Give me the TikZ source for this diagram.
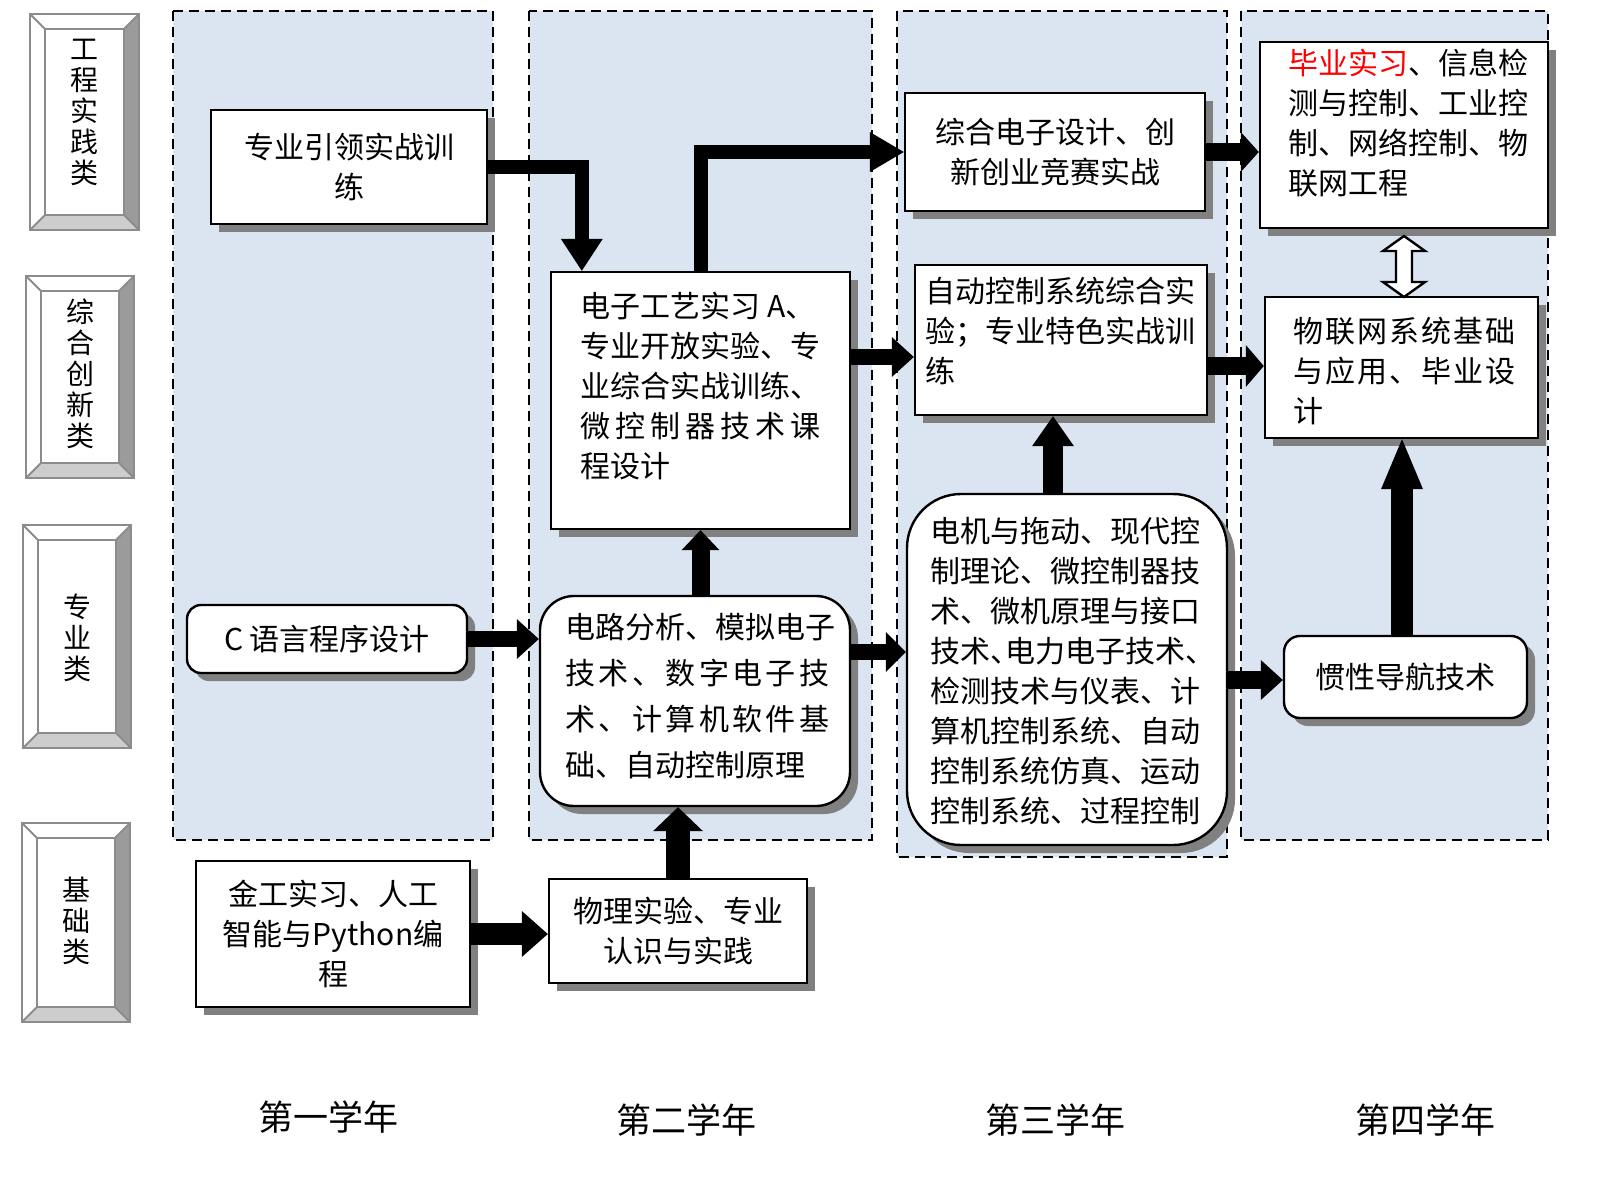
\documentclass[tikz,border=0pt]{standalone}
\usepackage{fontspec}
\setmainfont{Noto Sans CJK SC}
\usetikzlibrary{arrows.meta,shadows,calc}
\definecolor{panelblue}{RGB}{219,229,241}
\definecolor{shadowgray}{RGB}{128,128,128}
\definecolor{bevdark}{RGB}{155,155,155}
\definecolor{bevlight}{RGB}{205,205,205}
\definecolor{bevline}{RGB}{140,140,140}
\definecolor{hotred}{RGB}{255,0,0}
\newcommand\fbody{\fontsize{15pt}{20pt}\selectfont}
\newcommand\flab{\fontsize{14pt}{15.5pt}\selectfont}
\newcommand\fyear{\fontsize{17.5pt}{20pt}\selectfont}
\def\sprA#1#2{#1\ifx\relax#2\else\hfil\expandafter\sprA\expandafter#2\fi}
\newcommand\jline[2]{\hbox to #1{\sprA#2\relax}}
\newcommand\hw[1]{\makebox[0.5em][l]{#1}}
\newcommand\bevbox[4]{%
 \fill[white] (#1,#2) rectangle (#3,#4);
 \fill[bevdark] (#3,#2) -- (#3,#4) -- ({#3-15},{#4-15}) -- ({#3-15},{#2+15}) -- cycle;
 \fill[bevlight] (#1,#4) -- (#3,#4) -- ({#3-15},{#4-15}) -- ({#1+15},{#4-15}) -- cycle;
 \draw[bevline,line width=1pt] (#1,#2) rectangle (#3,#4);
 \draw[bevline,line width=1pt] ({#1+15},{#2+15}) rectangle ({#3-15},{#4-15});
 \draw[bevline,line width=1pt] (#1,#2) -- ({#1+15},{#2+15}) (#3,#2) -- ({#3-15},{#2+15})
   (#3,#4) -- ({#3-15},{#4-15}) (#1,#4) -- ({#1+15},{#4-15});
}
\tikzset{
 panel/.style={draw=black, fill=panelblue, dash pattern=on 5pt off 3pt, line width=1pt},
 box/.style={draw=black, fill=white, line width=1.2pt, inner sep=0pt, font=\fbody, align=center,
   drop shadow={shadow xshift=4pt, shadow yshift=-4pt, fill=shadowgray, opacity=1}},
 ltxt/.style={font=\fbody, align=left, anchor=north west, inner sep=0pt},
 labtxt/.style={font=\flab, align=center, inner sep=0pt},
 yeartxt/.style={font=\fyear, inner sep=0pt},
 blk/.style n args={3}{draw=black, line width=#1, line join=miter,
   -{Triangle[width=#2,length=#3,line width=0pt]}},
 dbl/.style={draw=black, fill=white, line width=1.2pt, line join=miter}
}
\begin{document}
\begin{tikzpicture}[x=0.5pt,y=-0.5pt]
\useasboundingbox (0,0) rectangle (1600,1177);
% year panels
\draw[panel] (173,11) rectangle (493,840);
\draw[panel] (529,11) rectangle (872,840);
\draw[panel] (897,11) rectangle (1227,857);
\draw[panel] (1241,11) rectangle (1548,840);
% category labels
\bevbox{30}{14}{139}{230}
\node[labtxt] (L1) at (84,112) {工\\程\\实\\践\\类};
\bevbox{26}{276}{134}{478}
\node[labtxt] (L2) at (80,374) {综\\合\\创\\新\\类};
\bevbox{23}{525}{131}{748}
\node[labtxt] (L3) at (77,638) {专\\业\\类};
\bevbox{22}{823}{130}{1022}
\node[labtxt] (L4) at (76,921) {基\\础\\类};
% boxes
\node[box, minimum width=138pt, minimum height=57pt] (B1) at (349,167) {专业引领实战训\\练};
\node[box, minimum width=149.5pt, minimum height=128.5pt] (B2) at (700.5,400.5) {};
\node[box, minimum width=150pt, minimum height=59pt] (B3) at (1055,152) {综合电子设计、创\\新创业竞赛实战};
\node[box, minimum width=146pt, minimum height=75pt] (B4) at (1061,340) {};
\node[box, minimum width=144pt, minimum height=93pt] (B5) at (1404,135) {};
\node[box, minimum width=136.5pt, minimum height=70.5pt] (B6) at (1401.5,367.5) {};
\node[box, rounded corners=7pt, minimum width=140pt, minimum height=34pt] (B7) at (327,639) {C 语言程序设计};
\node[box, rounded corners=17pt, minimum width=155pt, minimum height=105pt] (B8) at (695,701) {};
\node[box, rounded corners=27pt, minimum width=160pt, minimum height=175.5pt] (B9) at (1067,669.5) {};
\node[box, rounded corners=8pt, minimum width=121.5pt, minimum height=41pt] (B10) at (1405.5,677) {惯性导航技术};
\node[box, minimum width=137pt, minimum height=73pt] (B11) at (333,934) {金工实习、人工\\智能与Python编\\程};
\node[box, minimum width=129pt, minimum height=52pt] (B12) at (678,931) {物理实验、专业\\认识与实践};
% texts of left-aligned boxes
\node[ltxt] (B2t) at (580,292) {电子工艺实习 A、\\\jline{120pt}{专业开放实验、专}\\业综合实战训练、\\\jline{120pt}{微控制器技术课}\\程设计};
\node[ltxt] (B4t) at (925,277) {自动控制系统综合实\\验；专业特色实战训\\练};
\node[ltxt] (B5t) at (1288,49) {\textcolor{hotred}{毕业实习}、信息检\\测与控制、工业控\\制、网络控制、物\\联网工程};
\node[ltxt] (B6t) at (1293,317) {\jline{111pt}{物联网系统基础}\\\jline{111pt}{与应用、毕业设}\\计};
\node[ltxt, font=\fontsize{15pt}{23pt}\selectfont] (B8t) at (565,613) {电路分析、模拟电子\\\jline{132pt}{技术、数字电子技}\\\jline{132pt}{术、计算机软件基}\\础、自动控制原理};
\node[ltxt] (B9t) at (930,517) {电机与拖动、现代控\\制理论、微控制器技\\术、微机原理与接口\\技术\hw{、}电力电子技术\hw{、}\\检测技术与仪表、计\\算机控制系统、自动\\控制系统仿真、运动\\控制系统、过程控制};
% helper coordinates
\coordinate (cA3) at (0,357);
\coordinate (cA8) at (0,652);
\coordinate (cA9) at (1053,0);
\coordinate (cA11) at (0,366);
\coordinate (cA12) at (0,680);
\coordinate (cA13) at (1402,0);
% arrows
\draw[blk={7pt}{21pt}{16pt}] (B1.east) -| ([xshift=16pt]B2.north west);
\draw[blk={7pt}{20pt}{17pt}] (B2.north) |- (B3.west);
\draw[blk={8pt}{20pt}{11pt}] (B2.east |- cA3) -- (B4.west |- cA3);
\draw[blk={9pt}{19pt}{10pt}] (B8.north -| B2.south) -- (B2.south);
\draw[blk={12pt}{25pt}{12pt}] (B12.north) -- (B8.south -| B12.north);
\draw[blk={8pt}{20pt}{11pt}] (B7.east) -- (B8.west |- B7.east);
\draw[blk={11pt}{23pt}{13pt}] (B11.east) -- (B12.west |- B11.east);
\draw[blk={8pt}{20pt}{10pt}] (B8.east |- cA8) -- (B9.west |- cA8);
\draw[blk={10pt}{21pt}{15pt}] (B9.north -| cA9) -- (B4.south -| cA9);
\draw[blk={9pt}{20pt}{9pt}] (B3.east) -- (B5.west |- B3.east);
\draw[blk={9pt}{21pt}{9pt}] (B4.east |- cA11) -- (B6.west |- cA11);
\draw[blk={9pt}{20pt}{11pt}] (B9.east |- cA12) -- (B10.west |- cA12);
\draw[blk={11pt}{21pt}{25pt}] (B10.north -| cA13) -- (B6.south -| cA13);
% double arrow between B5 and B6
\draw[dbl] (1404,236) -- (1425,251) -- (1412,251) -- (1412,282) -- (1425,282) -- (1404,297)
  -- (1383,282) -- (1396,282) -- (1396,251) -- (1383,251) -- cycle;
% year labels
\node[yeartxt] (Y1) at (328,1117) {第一学年};
\node[yeartxt] (Y2) at (686,1120) {第二学年};
\node[yeartxt] (Y3) at (1055,1120) {第三学年};
\node[yeartxt] (Y4) at (1425,1120) {第四学年};
\end{tikzpicture}
\end{document}
